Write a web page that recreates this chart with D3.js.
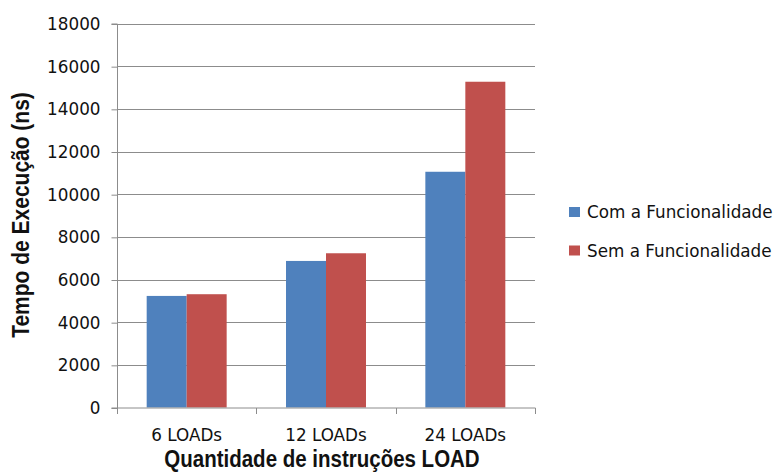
<!DOCTYPE html>
<html>
<head>
<meta charset="utf-8">
<script src="https://cdn.jsdelivr.net/npm/d3@7"></script>
<style>
  html, body { margin: 0; padding: 0; background: #fff; }
  svg { display: block; }
</style>
</head>
<body>
<svg id="chart" width="777" height="474"></svg>
<script>
// Execution time per number of LOAD instructions
const categories = ["6 LOADs", "12 LOADs", "24 LOADs"];
const seriesNames = ["Com a Funcionalidade", "Sem a Funcionalidade"];
const comValues = [5230, 6870, 11050];
const semValues = [5310, 7230, 15270];
const yTicks = [0, 2000, 4000, 6000, 8000, 10000, 12000, 14000, 16000, 18000];
const colors = ["#4F81BD", "#C0504D"];

const svg = d3.select("#chart");
const plot = { left: 117, right: 535, top: 23.5, bottom: 407.5 };
const tickFont = "'DejaVu Sans', Verdana, sans-serif";
const titleFont = "'Liberation Sans', Arial, sans-serif";
const labelSize = 16.8;

const x0 = d3.scaleBand().domain(categories)
  .range([plot.left, plot.right]).paddingInner(0.426).paddingOuter(0.213);
const x1 = d3.scaleBand().domain(seriesNames).range([0, x0.bandwidth()]);
const y = d3.scaleLinear().domain([0, 18000]).range([plot.bottom, plot.top]);

// horizontal gridlines
svg.append("g").selectAll("line").data(yTicks.filter(t => t > 0)).join("line")
  .attr("x1", plot.left).attr("x2", plot.right)
  .attr("y1", d => Math.round(y(d)) + 0.5).attr("y2", d => Math.round(y(d)) + 0.5)
  .attr("stroke", "#8c8c8c").attr("stroke-width", 1);

// bars
const rows = categories.map((c, i) => ({ cat: c, vals: [comValues[i], semValues[i]] }));
svg.append("g").selectAll("g").data(rows).join("g")
  .attr("transform", d => `translate(${x0(d.cat)},0)`)
  .selectAll("rect").data(d => d.vals.map((v, j) => ({ name: seriesNames[j], v, j })))
  .join("rect")
  .attr("x", d => x1(d.name)).attr("width", x1.bandwidth())
  .attr("y", d => y(d.v)).attr("height", d => y(0) - y(d.v))
  .attr("fill", d => colors[d.j]);

// y axis
const yAxis = d3.axisLeft(y).tickValues(yTicks).tickSize(6).tickPadding(11).tickFormat(d3.format("d"));
const gy = svg.append("g").attr("transform", `translate(${plot.left + 0.5},0.5)`).call(yAxis);
gy.select(".domain").attr("stroke", "#8c8c8c").attr("d", `M-6,${plot.top}H0V${plot.bottom}H-6`);
gy.selectAll(".tick line").attr("stroke", "#8c8c8c");
gy.selectAll(".tick text").attr("font-family", tickFont).attr("font-size", labelSize).attr("fill", "#111");

// x axis with boundary ticks between categories
const gx = svg.append("g").attr("transform", `translate(0,${plot.bottom + 0.5})`);
gx.append("line").attr("x1", plot.left).attr("x2", plot.right + 0.5)
  .attr("stroke", "#8c8c8c");
const step = x0.step();
gx.selectAll(".bt").data(d3.range(categories.length + 1)).join("line")
  .attr("class", "bt")
  .attr("x1", i => Math.round(plot.left + i * step) + 0.5)
  .attr("x2", i => Math.round(plot.left + i * step) + 0.5)
  .attr("y1", 0).attr("y2", 6).attr("stroke", "#8c8c8c");
gx.selectAll(".cl").data(categories).join("text")
  .attr("class", "cl")
  .attr("x", d => x0(d) + x0.bandwidth() / 2).attr("y", 33)
  .attr("text-anchor", "middle")
  .attr("font-family", tickFont).attr("font-size", labelSize).attr("fill", "#111")
  .text(d => d);

// axis titles (slightly tall lettering)
svg.append("text")
  .attr("transform", "translate(322,467) scale(1,1.14)")
  .attr("text-anchor", "middle")
  .attr("font-family", titleFont).attr("font-weight", "bold").attr("font-size", 20.5)
  .attr("fill", "#111")
  .text("Quantidade de instruções LOAD");
svg.append("text")
  .attr("transform", "translate(29,215) rotate(-90) scale(1,1.11)")
  .attr("text-anchor", "middle")
  .attr("font-family", titleFont).attr("font-weight", "bold").attr("font-size", 21)
  .attr("fill", "#111")
  .text("Tempo de Execução (ns)");

// legend
const legend = svg.append("g").attr("transform", "translate(569,207)");
const item = legend.selectAll("g").data(seriesNames).join("g")
  .attr("transform", (d, i) => `translate(0,${i * 38.5})`);
item.append("rect").attr("width", 11).attr("height", 10)
  .attr("fill", (d, i) => colors[i]);
item.append("text").attr("x", 18).attr("y", 11)
  .attr("font-family", tickFont).attr("font-size", labelSize).attr("fill", "#111")
  .text(d => d);
</script>
</body>
</html>
